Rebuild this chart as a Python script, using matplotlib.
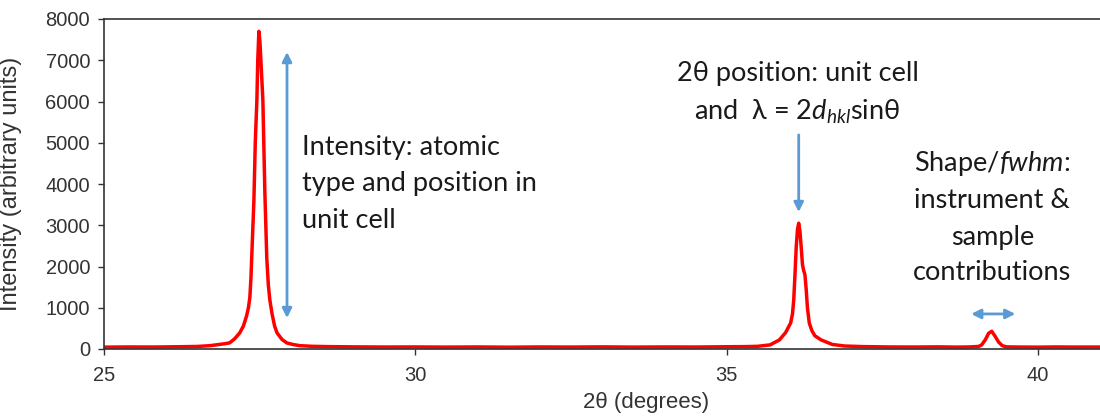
import matplotlib
matplotlib.use("Agg")
import matplotlib.pyplot as plt

# diffraction pattern
two_theta = [25.0, 25.4, 25.8, 26.2, 26.5, 26.7, 26.85, 26.95, 27.02, 27.1, 27.18,
             27.24, 27.29, 27.32, 27.343, 27.36, 27.38, 27.408, 27.43, 27.456,
             27.47, 27.488, 27.505, 27.53, 27.552, 27.584, 27.615, 27.64, 27.664,
             27.7, 27.74, 27.78, 27.86, 27.94, 28.05, 28.15, 28.35, 28.6, 29.0,
             29.5, 30.0, 30.5, 31.0, 31.5, 32.0, 32.5, 33.0, 33.5, 34.0, 34.5,
             35.0, 35.3, 35.5, 35.7, 35.85, 35.95, 36.03, 36.06, 36.08, 36.1,
             36.12, 36.14, 36.16, 36.18, 36.2, 36.22, 36.24, 36.26, 36.28, 36.3,
             36.33, 36.37, 36.42, 36.52, 36.7, 36.9, 37.2, 37.6, 38.0, 38.4, 38.7,
             38.9, 39.05, 39.1, 39.16, 39.21, 39.26, 39.31, 39.37, 39.43, 39.5,
             39.7, 40.0, 40.3, 40.6, 41.0]
intensity = [45, 50, 48, 55, 62, 80, 110, 130, 150, 250, 390,
             560, 800, 1000, 1250, 1700, 2500, 3600, 5000, 6040,
             7000, 7700, 7450, 6700, 6040, 3800, 2200, 1550, 1190,
             850, 560, 390, 230, 145, 105, 80, 65, 58, 52,
             48, 50, 46, 50, 44, 50, 47, 52, 46, 50, 48,
             55, 58, 65, 100, 220, 400, 630, 850, 1190, 1800,
             2470, 2900, 3050, 2850, 2470, 2050, 1900, 1800, 1450, 1000,
             630, 450, 320, 220, 110, 72, 58, 50, 48, 52, 46,
             50, 62, 100, 230, 380, 430, 320, 170, 80, 52,
             48, 45, 50, 47, 48]

x_ticks = [25, 30, 35, 40]
y_ticks = [0, 1000, 2000, 3000, 4000, 5000, 6000, 7000, 8000]

red = "#FF0000"
blue = "#5B9BD5"
grey = "#333333"

plt.rcParams["mathtext.fontset"] = "custom"
plt.rcParams["mathtext.rm"] = "Lato"
plt.rcParams["mathtext.it"] = "Lato:italic"

fig = plt.figure(figsize=(11, 4.17), dpi=100)
ax = fig.add_axes([104 / 1100, 68 / 417, 996 / 1100, 330 / 417])

ax.plot(two_theta, intensity, color=red, lw=2.5, solid_joinstyle="round")

ax.set_xlim(25, 41)
ax.set_ylim(0, 8000)
ax.set_xticks(x_ticks)
ax.set_yticks(y_ticks)
ax.tick_params(direction="out", length=4, width=1, colors=grey,
               labelsize=14.5, pad=6)
for lab in ax.get_xticklabels() + ax.get_yticklabels():
    lab.set_fontfamily("Liberation Sans")
    lab.set_color(grey)
ax.tick_params(axis="x", pad=8)

ax.spines["right"].set_visible(False)
for s in ["left", "bottom", "top"]:
    ax.spines[s].set_color(grey)
    ax.spines[s].set_linewidth(1.2)

ax.set_xlabel("2θ (degrees)", family="Liberation Sans", fontsize=16,
              color=grey)
ax.xaxis.set_label_coords((646 - 104) / 996, -0.13)
ax.set_ylabel("Intensity (arbitrary units)", family="Liberation Sans",
              fontsize=17, color=grey)
ax.yaxis.set_label_coords(-0.082, 0.5)

# annotations
arrow = dict(arrowstyle="<|-|>", color=blue, lw=2, mutation_scale=14,
             shrinkA=0, shrinkB=0)
ax.annotate("", xy=(27.94, 7200), xytext=(27.94, 750), arrowprops=arrow)
ax.annotate("", xy=(36.16, 3320), xytext=(36.16, 5190),
            arrowprops=dict(arrowstyle="-|>", color=blue, lw=2,
                            mutation_scale=14, shrinkA=0, shrinkB=0))
ax.annotate("", xy=(38.93, 850), xytext=(39.64, 850), arrowprops=arrow)

txt = dict(family=["Lato", "DejaVu Sans"], fontsize=19.5, color="#1a1a1a",
           linespacing=1.55)
ax.text(28.18, 4000, "Intensity: atomic\ntype and position in\nunit cell",
        ha="left", va="center", **txt)
ax.text(36.14, 6200, "2θ position: unit cell\nand  λ = 2$\\mathit{d}_{\\mathit{hkl}}$sinθ",
        ha="center", va="center", multialignment="center", **txt)
ax.text(39.27, 3200,
        "Shape/$\\mathit{fwhm}$:\ninstrument &\nsample\ncontributions",
        ha="center", va="center", multialignment="center", **txt)

fig.savefig("out.png", dpi=100)
